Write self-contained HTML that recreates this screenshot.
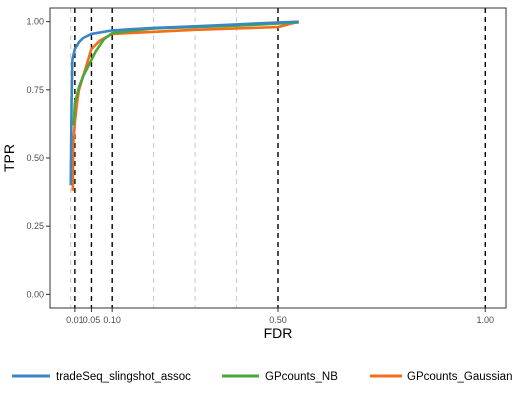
<!DOCTYPE html>
<html><head><meta charset="utf-8"><style>
body{margin:0;background:#fff;font-family:"Liberation Sans",sans-serif}
</style></head><body>
<svg id="chart" width="515" height="401" xmlns="http://www.w3.org/2000/svg" font-family="Liberation Sans, sans-serif">
<g id="grid"></g><g id="series"></g><g id="axes"></g>
<text x="14" y="158" transform="rotate(-90 14 158)" text-anchor="middle" font-size="14">TPR</text>
<text x="278" y="338" text-anchor="middle" font-size="14">FDR</text>
<g font-size="11.5">
<line x1="12" y1="376" x2="50" y2="376" stroke="#3a86c4" stroke-width="3"/>
<text x="56" y="380">tradeSeq_slingshot_assoc</text>
<line x1="222" y1="376" x2="259" y2="376" stroke="#4aa73a" stroke-width="3"/>
<text x="265" y="380">GPcounts_NB</text>
<line x1="370" y1="376" x2="402" y2="376" stroke="#f46d1a" stroke-width="3"/>
<text x="407" y="380">GPcounts_Gaussian</text>
</g>
</svg>
<script>
const xTicks=[0.01,0.05,0.10,0.50,1.00];
const xTickLabels=["0.01","0.05","0.10","0.50","1.00"];
const yTicks=[0,0.25,0.5,0.75,1];
const yTickLabels=["0.00","0.25","0.50","0.75","1.00"];
const grayLines=[0,0.2,0.3,0.4];
const blueX=[0.0,0.002,0.004,0.01,0.02,0.03,0.05,0.1,0.2,0.3,0.4,0.55];
const blueY=[0.40,0.70,0.86,0.90,0.925,0.94,0.955,0.968,0.977,0.983,0.99,1.0];
const greenX=[0.007,0.01,0.02,0.03,0.04,0.05,0.06,0.08,0.1,0.2,0.4,0.55];
const greenY=[0.62,0.70,0.76,0.80,0.83,0.86,0.89,0.935,0.958,0.975,0.985,0.997];
const orangeX=[0.005,0.006,0.01,0.015,0.02,0.03,0.04,0.05,0.07,0.1,0.3,0.5,0.55];
const orangeY=[0.38,0.55,0.63,0.70,0.75,0.80,0.85,0.90,0.93,0.955,0.97,0.98,1.0];
const L=50,R=506,T=8,B=308;
const xs=v=>L+(v+0.05)/1.1*(R-L);
const ys=v=>B-(v+0.05)/1.1*(B-T);
const NS="http://www.w3.org/2000/svg";
function mk(tag,parent,attrs){const e=document.createElementNS(NS,tag);for(const k in attrs)e.setAttribute(k,attrs[k]);parent.appendChild(e);return e;}
const grid=document.getElementById('grid'),axes=document.getElementById('axes'),ser=document.getElementById('series');
grayLines.forEach(v=>{const l=mk('line',grid,{x1:xs(v),x2:xs(v),y1:T,y2:B,stroke:'#c8c8c8','stroke-dasharray':'5,4','stroke-width':1});

});
xTicks.forEach((v,i)=>{const l=mk('line',grid,{x1:xs(v),x2:xs(v),y1:T,y2:B,stroke:'#000','stroke-dasharray':'5,4','stroke-width':1.4});


const t=mk('line',axes,{x1:xs(v),x2:xs(v),y1:B,y2:B+4,stroke:'#333'});


const tx=mk('text',axes,{x:xs(v),y:B+15,'text-anchor':'middle','font-size':9,fill:'#4d4d4d'});tx.textContent=xTickLabels[i];

});
yTicks.forEach((v,i)=>{const t=mk('line',axes,{x1:L-4,x2:L,y1:ys(v),y2:ys(v),stroke:'#333'});


const tx=mk('text',axes,{x:L-6,y:ys(v)+3,'text-anchor':'end','font-size':9,fill:'#4d4d4d'});tx.textContent=yTickLabels[i];

});
const box=mk('rect',axes,{x:L,y:T,width:R-L,height:B-T,fill:'none',stroke:'#333','stroke-width':1});


function line(X,Y,c,name){const p=mk('polyline',ser,{points:X.map((x,i)=>xs(x)+','+ys(Y[i])).join(' '),fill:'none',stroke:c,'stroke-width':2.6,'stroke-linejoin':'round'});

}
line(orangeX,orangeY,'#f46d1a','series-gpcounts-gaussian');
line(greenX,greenY,'#4aa73a','series-gpcounts-nb');
line(blueX,blueY,'#3a86c4','series-tradeseq');
</script>
</body></html>
